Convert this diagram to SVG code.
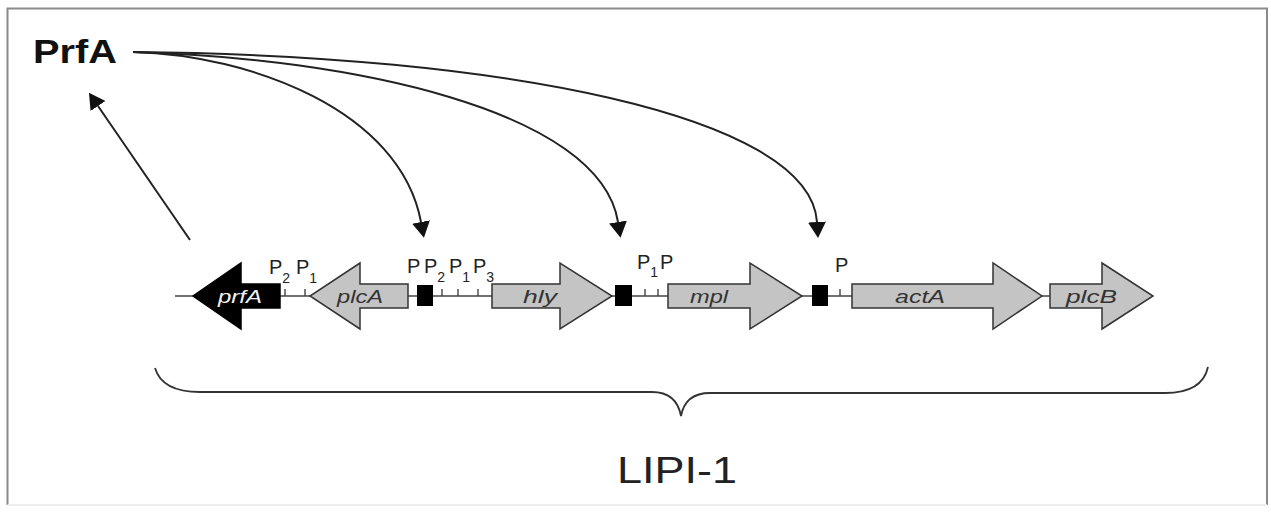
<svg xmlns="http://www.w3.org/2000/svg" width="1271" height="516" viewBox="0 0 1271 516">
  <style>
    .frame { fill: none; stroke: #8a8a8a; stroke-width: 2; }
    .link { fill: none; stroke: #222; stroke-width: 2; }
    .backbone { stroke: #444; stroke-width: 1.6; }
    .tick { stroke: #444; stroke-width: 1.4; }
    .gene { fill: #c4c4c4; stroke: #333; stroke-width: 1.5; }
    .gene-dark { fill: #000; stroke: #000; stroke-width: 1.5; }
    .box { fill: #000; }
    .glabel { font-family: "Liberation Sans", Arial, sans-serif; font-style: italic; font-size: 19px; fill: #333; }
    .plabel { font-family: "Liberation Sans", Arial, sans-serif; font-size: 20px; fill: #222; }
    .sub { font-size: 14px; fill: #222; }
    .brace { fill: none; stroke: #333; stroke-width: 1.8; }
  </style>
  <defs>
    <marker id="head" viewBox="0 0 16 18" refX="0" refY="9" markerWidth="16" markerHeight="18" markerUnits="userSpaceOnUse" orient="auto">
      <path d="M0,0 L16,9 L0,18 z" fill="#111"/>
    </marker>
  </defs>

  <rect width="1271" height="516" fill="#fff"/>
  <path class="frame" d="M7.5,505 L7.5,8.5 L1267,8.5 L1267,505"/>
  <line x1="7.5" y1="505" x2="1267" y2="505" stroke="#eee" stroke-width="2"/>

  <g id="regulator">
    <text x="33" y="63" font-family="Liberation Sans, Arial, sans-serif" font-weight="bold" font-size="33" fill="#111" textLength="84" lengthAdjust="spacingAndGlyphs">PrfA</text>
  </g>

  <g id="connectors">
    <path class="link" d="M133,52 C250,55 400,110 421,222" marker-end="url(#head)"/>
    <path class="link" d="M133,52 C350,58 600,110 618,222" marker-end="url(#head)"/>
    <path class="link" d="M133,52 C500,55 810,115 817,222" marker-end="url(#head)"/>
    <path class="link" d="M190,240 L98,106" marker-end="url(#head)"/>
  </g>

  <g id="backbone">
    <line class="backbone" x1="175" y1="296" x2="1050" y2="296"/>
    <line class="tick" x1="285" y1="289" x2="285" y2="296"/>
    <line class="tick" x1="305" y1="289" x2="305" y2="296"/>
    <line class="tick" x1="442" y1="289" x2="442" y2="296"/>
    <line class="tick" x1="458" y1="289" x2="458" y2="296"/>
    <line class="tick" x1="478" y1="289" x2="478" y2="296"/>
    <line class="tick" x1="645" y1="289" x2="645" y2="296"/>
    <line class="tick" x1="658" y1="289" x2="658" y2="296"/>
    <line class="tick" x1="840" y1="289" x2="840" y2="296"/>
  </g>

  <g id="gene-prfA">
    <path class="gene-dark" d="M280,284 L241,284 L241,263 L193,296 L241,329 L241,308 L280,308 z"/>
    <text class="glabel" x="218" y="303" style="fill:#f2f2f2" textLength="44" lengthAdjust="spacingAndGlyphs">prfA</text>
  </g>

  <g id="promoters-prfA">
    <text class="plabel" x="269" y="274">P<tspan class="sub" dy="9">2</tspan></text>
    <text class="plabel" x="296" y="274">P<tspan class="sub" dy="9">1</tspan></text>
  </g>

  <g id="gene-plcA">
    <path class="gene" d="M408,284 L360,284 L360,263 L310,296 L360,329 L360,308 L408,308 z"/>
    <text class="glabel" x="337" y="303" textLength="46" lengthAdjust="spacingAndGlyphs">plcA</text>
  </g>

  <g id="box-1">
    <rect class="box" x="417" y="285" width="16" height="21"/>
  </g>

  <g id="promoters-hly">
    <text class="plabel" x="407" y="273">P</text>
    <text class="plabel" x="424" y="273">P<tspan class="sub" dy="9">2</tspan></text>
    <text class="plabel" x="449" y="273">P<tspan class="sub" dy="9">1</tspan></text>
    <text class="plabel" x="473" y="273">P<tspan class="sub" dy="9">3</tspan></text>
  </g>

  <g id="gene-hly">
    <path class="gene" d="M492,284 L560,284 L560,263 L612,296 L560,329 L560,308 L492,308 z"/>
    <text class="glabel" x="523" y="303" textLength="34" lengthAdjust="spacingAndGlyphs">hly</text>
  </g>

  <g id="box-2">
    <rect class="box" x="615" y="285" width="17" height="21"/>
  </g>

  <g id="promoters-mpl">
    <text class="plabel" x="637" y="269">P<tspan class="sub" dy="8">1</tspan></text>
    <text class="plabel" x="660" y="269">P</text>
  </g>

  <g id="gene-mpl">
    <path class="gene" d="M668,284 L750,284 L750,263 L802,296 L750,329 L750,308 L668,308 z"/>
    <text class="glabel" x="690" y="303" textLength="38" lengthAdjust="spacingAndGlyphs">mpl</text>
  </g>

  <g id="box-3">
    <rect class="box" x="812" y="285" width="16" height="21"/>
  </g>

  <g id="promoter-actA">
    <text class="plabel" x="835" y="272">P</text>
  </g>

  <g id="gene-actA">
    <path class="gene" d="M852,284 L993,284 L993,263 L1042,296 L993,329 L993,308 L852,308 z"/>
    <text class="glabel" x="895" y="303" textLength="50" lengthAdjust="spacingAndGlyphs">actA</text>
  </g>

  <g id="gene-plcB">
    <path class="gene" d="M1050,284 L1102,284 L1102,263 L1153,296 L1102,329 L1102,308 L1050,308 z"/>
    <text class="glabel" x="1066" y="303" textLength="51" lengthAdjust="spacingAndGlyphs">plcB</text>
  </g>

  <g id="island">
    <path class="brace" d="M155,368 C160,385 175,392 200,392 L652,392 C668,392 678,400 681,416 C684,400 694,393 710,393 L1165,393 C1190,393 1204,385 1208,367"/>
    <text x="617" y="483" font-family="Liberation Sans, Arial, sans-serif" font-size="36" fill="#222" textLength="120" lengthAdjust="spacingAndGlyphs">LIPI-1</text>
  </g>
</svg>
